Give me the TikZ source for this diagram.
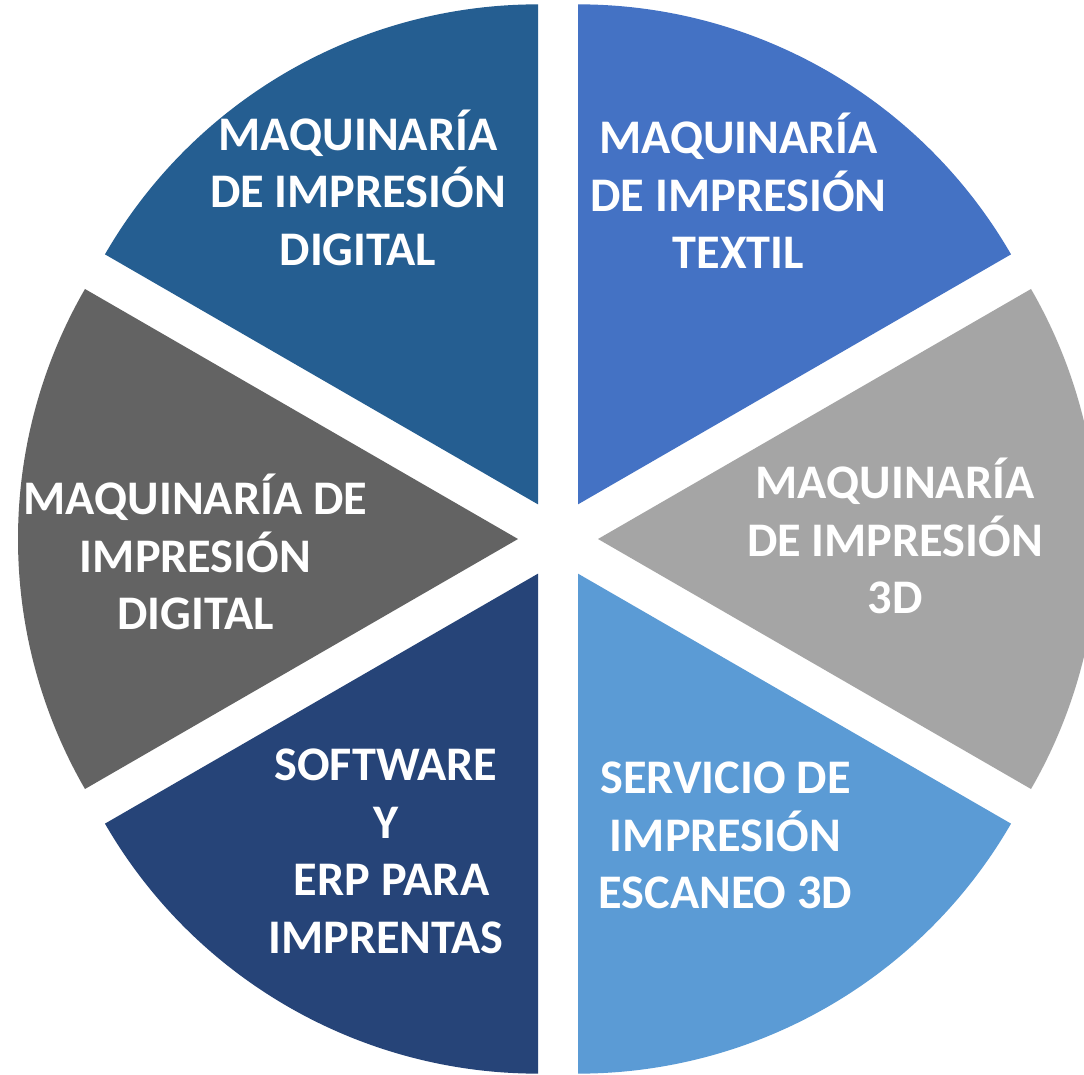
\documentclass[tikz,border=0pt]{standalone}
\usepackage{fontspec}
\setmainfont{Carlito}
\definecolor{sectgray}{HTML}{A5A5A5}
\definecolor{sectblue}{HTML}{4472C4}
\definecolor{sectsteel}{HTML}{255E91}
\definecolor{sectdark}{HTML}{636363}
\definecolor{sectnavy}{HTML}{264478}
\definecolor{sectsky}{HTML}{5B9BD5}

\begin{document}
\begin{tikzpicture}[x=0.75pt, y=0.75pt,
    sectortext/.style={text=white, font=\bfseries\fontsize{36.2}{43.1}\selectfont, align=center, inner sep=0pt}]
    \useasboundingbox (-558,-535) rectangle (526,539);
    \fill[white] (-558,-535) rectangle (526,539);

    % exploded pie, each slice pushed 40 out along its bisector
    \fill[sectgray]  (0:40)   -- ++(-30:500) arc (-30:30:500)   -- cycle;
    \fill[sectblue]  (60:40)  -- ++(30:500)  arc (30:90:500)    -- cycle;
    \fill[sectsteel] (120:40) -- ++(90:500)  arc (90:150:500)   -- cycle;
    \fill[sectdark]  (180:40) -- ++(150:500) arc (150:210:500)  -- cycle;
    \fill[sectnavy]  (240:40) -- ++(210:500) arc (210:270:500)  -- cycle;
    \fill[sectsky]   (300:40) -- ++(270:500) arc (270:330:500)  -- cycle;

    \node[sectortext] (digital) at (-200,351.5) {\vphantom{Í}MAQUINARÍA\\DE IMPRESIÓN\\DIGITAL};
    \node[sectortext] (textil) at (180.5,348) {\vphantom{Í}MAQUINARÍA\\DE IMPRESIÓN\\TEXTIL};
    \node[sectortext] (print3d) at (337,3) {\vphantom{Í}MAQUINARÍA\\DE IMPRESIÓN\\3D};
    \node[sectortext] (digitalb) at (-362.5,-13) {\vphantom{Í}MAQUINARÍA DE\\IMPRESIÓN\\DIGITAL};
    \node[sectortext] (software) at (-172,-308) {\vphantom{Í}SOFTWARE\\Y\\\hspace*{0.23em}ERP PARA\\IMPRENTAS};
    \node[sectortext] (scan) at (167.5,-292) {\vphantom{Í}SERVICIO DE\\IMPRESIÓN\\ESCANEO 3D};
\end{tikzpicture}
\end{document}
